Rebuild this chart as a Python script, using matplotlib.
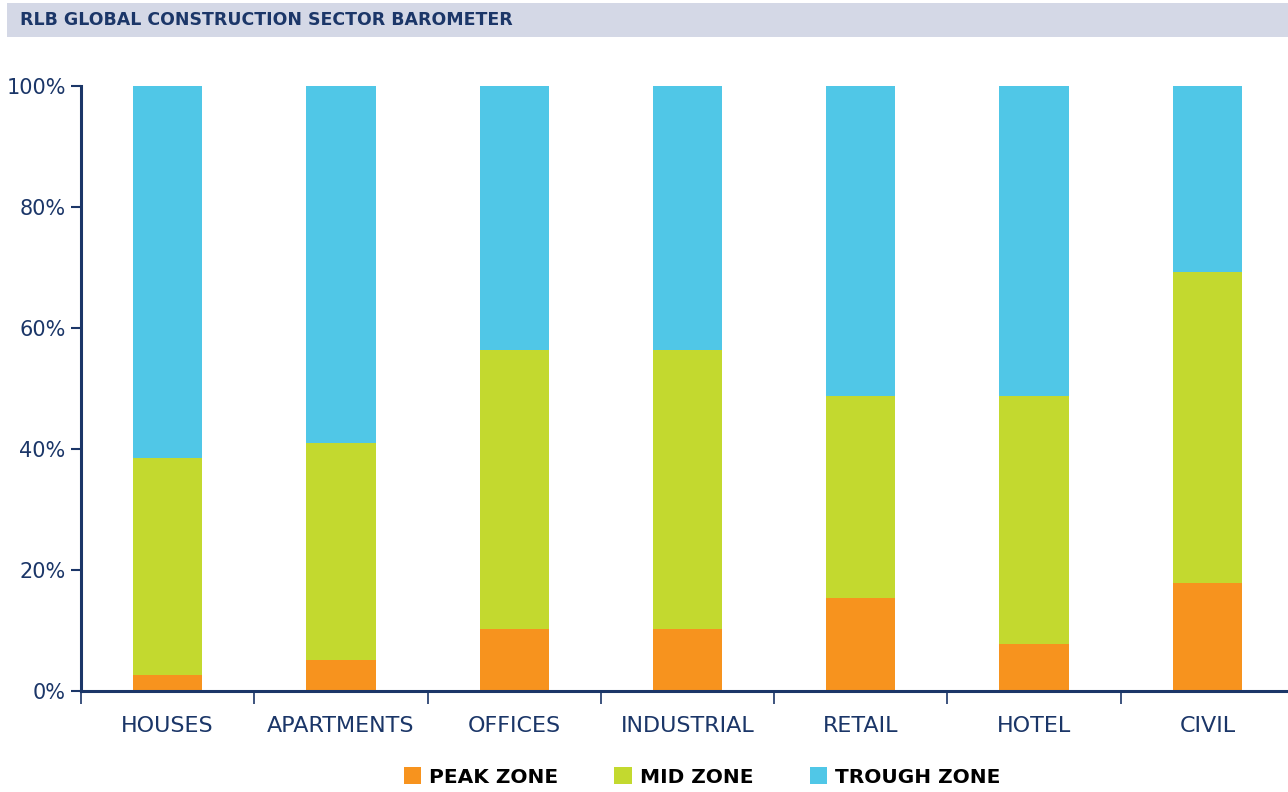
import numpy as np
import matplotlib
matplotlib.use("Agg")
import matplotlib.pyplot as plt
from matplotlib.patches import Rectangle, Patch

# 数据：各行业所处周期阶段的比例 (%)
categories = ["HOUSES", "APARTMENTS", "OFFICES", "INDUSTRIAL", "RETAIL", "HOTEL", "CIVIL"]
peak_zone = [2.6, 5.1, 10.3, 10.3, 15.4, 7.7, 17.9]
mid_zone = [35.9, 35.9, 46.1, 46.1, 33.3, 41.0, 51.3]
trough_zone = [61.5, 59.0, 43.6, 43.6, 51.3, 51.3, 30.8]
series_names = ["PEAK ZONE", "MID ZONE", "TROUGH ZONE"]
yticks = [0, 20, 40, 60, 80, 100]

navy = "#1B3668"
colors = ["#F7931E", "#C3D92F", "#50C7E7"]

fig = plt.figure(figsize=(12.88, 7.92), dpi=100)

# 标题栏
fig.patches.append(Rectangle((7 / 1288, 1 - 37 / 792), 1 - 7 / 1288, 34 / 792,
                             transform=fig.transFigure, facecolor="#D4D8E6",
                             edgecolor="none", zorder=0))
fig.text(20 / 1288, 1 - 20 / 792, "RLB GLOBAL CONSTRUCTION SECTOR BAROMETER",
         color=navy, fontsize=12.5, fontweight="bold", va="center", ha="left")

ax = fig.add_axes([81 / 1288, 1 - 691 / 792, 1213 / 1288, 605 / 792])

x = np.arange(len(categories))
bottom = np.zeros(len(categories))
for vals, c in zip([peak_zone, mid_zone, trough_zone], colors):
    ax.bar(x, vals, width=0.4, bottom=bottom, color=c, zorder=2)
    bottom += np.array(vals)

ax.set_xlim(-0.5, len(categories) - 0.5)
ax.set_ylim(0, 100)
ax.set_yticks(yticks)
ax.set_yticklabels([f"{v}%" for v in yticks])
ax.set_xticks(np.arange(len(categories) + 1) - 0.5)
ax.set_xticklabels([])
ax.set_xticks(x, minor=True)
ax.set_xticklabels(categories, minor=True)

for s in ["top", "right"]:
    ax.spines[s].set_visible(False)
for s in ["left", "bottom"]:
    ax.spines[s].set_color(navy)
    ax.spines[s].set_linewidth(2.2)

ax.tick_params(axis="y", colors=navy, labelsize=15, length=7, width=1.5, pad=4)
ax.tick_params(axis="x", which="major", colors=navy, length=9, width=1.2)
ax.tick_params(axis="x", which="minor", colors=navy, labelsize=16, length=0, pad=18)

handles = [Patch(facecolor=c, edgecolor="none") for c in colors]
leg = fig.legend(handles, series_names, loc="center", bbox_to_anchor=(0.545, 1 - 777 / 792),
                 ncol=3, frameon=False, handlelength=0.85, handleheight=0.85,
                 handletextpad=0.4, columnspacing=2.8,
                 prop={"weight": "bold", "size": 14.5})

fig.savefig("out.png", dpi=100)
